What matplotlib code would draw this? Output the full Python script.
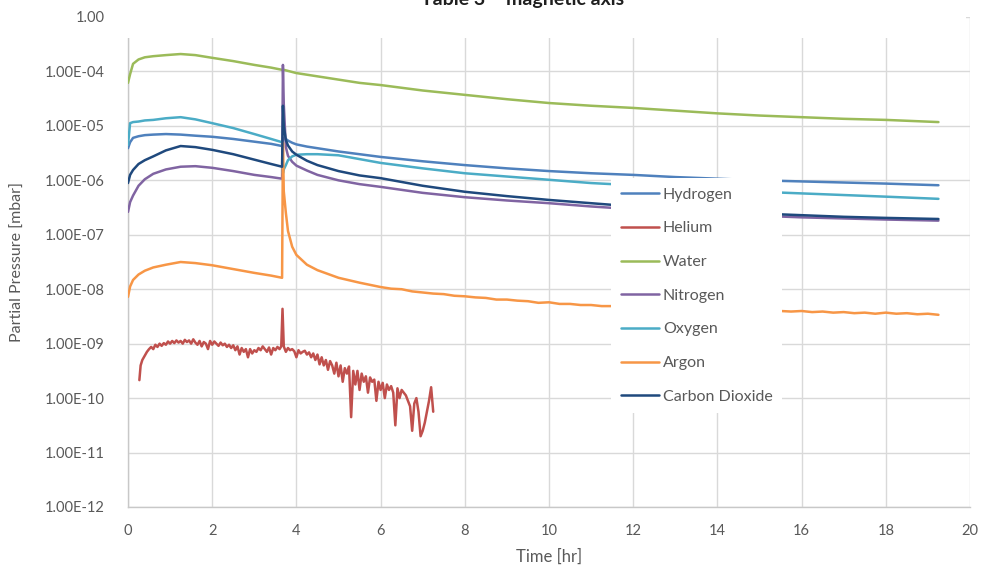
import numpy as np
import matplotlib
matplotlib.use("Agg")
import matplotlib.pyplot as plt
from matplotlib.patches import Rectangle
from matplotlib.ticker import FixedLocator, FixedFormatter, NullLocator

# ---- data: log10 of partial pressure [mbar] versus time [hr] ----
hours = [0, 0.05, 0.12, 0.25, 0.4, 0.6, 0.9, 1.25, 1.6, 2.0, 2.5, 3.0, 3.4,
         3.66, 3.68, 3.70, 3.75, 3.8, 3.9, 4.0, 4.25, 4.5, 5.0, 5.5, 6.0,
         7.0, 8.0, 9.0, 10.0, 11.0, 12.0, 13.0, 14.0, 15.0, 16.0, 17.0,
         18.0, 19.25]

hydrogen_log = [-5.41, -5.30, -5.22, -5.19, -5.17, -5.16, -5.15, -5.16, -5.18,
                -5.20, -5.24, -5.29, -5.33, -5.37, -5.25, -5.22, -5.24, -5.27,
                -5.31, -5.34, -5.38, -5.41, -5.47, -5.52, -5.57, -5.65, -5.72,
                -5.78, -5.83, -5.87, -5.90, -5.94, -5.97, -6.00, -6.02, -6.04,
                -6.06, -6.09]

water_log = [-4.21, -4.05, -3.86, -3.78, -3.74, -3.72, -3.70, -3.68, -3.70,
             -3.75, -3.81, -3.88, -3.93, -3.97, -3.97, -3.97, -3.98, -3.99,
             -4.01, -4.03, -4.06, -4.09, -4.15, -4.21, -4.25, -4.35, -4.43,
             -4.51, -4.58, -4.63, -4.67, -4.72, -4.77, -4.81, -4.84, -4.87,
             -4.89, -4.93]

nitrogen_log = [-6.58, -6.40, -6.28, -6.10, -5.98, -5.88, -5.80, -5.75, -5.74,
                -5.77, -5.83, -5.90, -5.94, -5.97, -3.88, -4.60, -5.39, -5.55,
                -5.66, -5.73, -5.82, -5.90, -6.00, -6.07, -6.12, -6.23, -6.31,
                -6.37, -6.42, -6.48, -6.53, -6.58, -6.62, -6.65, -6.68, -6.70,
                -6.72, -6.74]

oxygen_log = [-5.35, -4.95, -4.93, -4.92, -4.90, -4.89, -4.86, -4.84, -4.88,
              -4.95, -5.04, -5.15, -5.24, -5.30, -5.87, -5.80, -5.72, -5.63,
              -5.56, -5.53, -5.52, -5.52, -5.54, -5.61, -5.68, -5.78, -5.87,
              -5.93, -5.99, -6.05, -6.09, -6.13, -6.17, -6.21, -6.24, -6.27,
              -6.30, -6.34]

co2_log = [-6.05, -5.90, -5.81, -5.70, -5.63, -5.56, -5.45, -5.37, -5.39,
           -5.44, -5.52, -5.62, -5.70, -5.75, -4.63, -5.00, -5.26, -5.36,
           -5.47, -5.53, -5.64, -5.72, -5.83, -5.91, -5.96, -6.10, -6.21,
           -6.29, -6.36, -6.42, -6.48, -6.53, -6.57, -6.61, -6.64, -6.67,
           -6.69, -6.71]

argon_hours = [0, 0.05, 0.12, 0.25, 0.4, 0.6, 0.9, 1.25, 1.6, 2.0, 2.5, 3.0,
               3.4, 3.66, 3.68, 3.70, 3.75, 3.8, 3.9, 4.0, 4.25, 4.5, 5.0, 5.5,
               6.0, 6.25, 6.5, 6.75, 7.0, 7.25, 7.5, 7.75, 8.0, 8.25, 8.5,
               8.75, 9.0, 9.25, 9.5, 9.75, 10.0, 10.25, 10.5, 10.75, 11.0,
               11.25, 11.5, 11.75, 12.0, 12.25, 12.5, 12.75, 13.0, 13.25,
               13.5, 13.75, 14.0, 14.25, 14.5, 14.75, 15.0, 15.25, 15.5,
               15.75, 16.0, 16.25, 16.5, 16.75, 17.0, 17.25, 17.5, 17.75,
               18.0, 18.25, 18.5, 18.75, 19.0, 19.25]
argon_log = [-8.14, -7.95, -7.83, -7.73, -7.66, -7.60, -7.55, -7.50, -7.52,
             -7.56, -7.63, -7.70, -7.75, -7.79, -5.31, -6.20, -6.60, -6.93,
             -7.22, -7.37, -7.55, -7.65, -7.79, -7.88, -7.96, -7.99, -8.00,
             -8.04, -8.06, -8.08, -8.09, -8.12, -8.13, -8.15, -8.16, -8.19,
             -8.19, -8.21, -8.22, -8.25, -8.24, -8.27, -8.27, -8.29, -8.29,
             -8.31, -8.31, -8.33, -8.33, -8.35, -8.34, -8.36, -8.36, -8.37,
             -8.37, -8.39, -8.38, -8.40, -8.39, -8.40, -8.41, -8.39, -8.40,
             -8.41, -8.40, -8.42, -8.41, -8.43, -8.42, -8.44, -8.43, -8.45,
             -8.43, -8.45, -8.44, -8.46, -8.45, -8.47]

helium_hours = [0.27, 0.30, 0.34, 0.40, 0.45, 0.50, 0.55, 0.60, 0.65, 0.70,
                0.75, 0.80, 0.85, 0.90, 0.95, 1.00, 1.05, 1.10, 1.15, 1.20,
                1.25, 1.30, 1.35, 1.40, 1.45, 1.50, 1.55, 1.60, 1.65, 1.70,
                1.75, 1.80, 1.85, 1.90, 1.95, 2.00, 2.05, 2.10, 2.15, 2.20,
                2.25, 2.30, 2.35, 2.40, 2.45, 2.50, 2.55, 2.60, 2.65, 2.70,
                2.75, 2.80, 2.85, 2.90, 2.95, 3.00, 3.05, 3.10, 3.15, 3.20,
                3.25, 3.30, 3.35, 3.40, 3.45, 3.50, 3.55, 3.60, 3.64, 3.67,
                3.70, 3.75, 3.80, 3.85, 3.90, 3.95, 4.00, 4.05, 4.10, 4.15,
                4.20, 4.25, 4.30, 4.35, 4.40, 4.45, 4.50, 4.55, 4.60, 4.65,
                4.70, 4.75, 4.80, 4.85, 4.90, 4.95, 5.00, 5.05, 5.10, 5.15,
                5.20, 5.25, 5.30, 5.35, 5.40, 5.45, 5.50, 5.55, 5.60, 5.65,
                5.70, 5.75, 5.80, 5.85, 5.90, 5.95, 6.00, 6.05, 6.10, 6.15,
                6.20, 6.25, 6.30, 6.35, 6.40, 6.45, 6.50, 6.55, 6.60, 6.65,
                6.70, 6.75, 6.80, 6.85, 6.90, 6.95, 7.00, 7.05, 7.10, 7.15,
                7.20, 7.25]
helium_log = [-9.67, -9.40, -9.30, -9.22, -9.15, -9.10, -9.06, -9.10, -9.02,
              -9.06, -9.00, -9.04, -8.99, -9.02, -8.96, -9.00, -8.95, -8.99,
              -8.94, -8.98, -8.95, -9.00, -8.93, -8.97, -8.94, -9.00, -8.92,
              -8.98, -9.02, -8.95, -9.05, -8.97, -9.00, -9.10, -8.95, -9.02,
              -8.96, -9.00, -9.04, -8.98, -9.03, -9.00, -9.06, -9.02, -9.08,
              -9.03, -9.12, -9.05, -9.20, -9.08, -9.15, -9.10, -9.25, -9.10,
              -9.18, -9.12, -9.15, -9.08, -9.12, -9.05, -9.10, -9.15, -9.07,
              -9.20, -9.08, -9.12, -9.06, -9.10, -9.05, -8.36, -9.05, -9.15,
              -9.08, -9.12, -9.10, -9.14, -9.25, -9.12, -9.18, -9.15, -9.13,
              -9.20, -9.16, -9.25, -9.18, -9.30, -9.20, -9.38, -9.25, -9.40,
              -9.30, -9.48, -9.32, -9.40, -9.55, -9.35, -9.60, -9.40, -9.70,
              -9.45, -9.55, -9.42, -10.35, -9.50, -9.75, -9.50, -9.85, -9.55,
              -9.70, -9.60, -9.90, -9.62, -9.70, -9.66, -10.05, -9.70, -9.85,
              -9.72, -10.00, -9.75, -9.85, -9.78, -9.90, -10.50, -9.82, -10.00,
              -9.85, -9.90, -9.95, -10.05, -10.15, -10.60, -10.10, -10.00,
              -10.25, -10.70, -10.60, -10.45, -10.25, -10.05, -9.80, -10.25]

series_names = ["Hydrogen", "Helium", "Water", "Nitrogen", "Oxygen", "Argon",
                "Carbon Dioxide"]
series_colors = ["#4f81bd", "#c0504d", "#9bbb59", "#8064a2", "#4bacc6",
                 "#f79646", "#1f497d"]

y_tick_values = [1e-12, 1e-11, 1e-10, 1e-9, 1e-8, 1e-7, 1e-6, 1e-5, 1e-4, 1e-3]
y_tick_labels = ["1.00E-12", "1.00E-11", "1.00E-10", "1.00E-09", "1.00E-08",
                 "1.00E-07", "1.00E-06", "1.00E-05", "1.00E-04", "1.00"]
x_tick_values = [0, 2, 4, 6, 8, 10, 12, 14, 16, 18, 20]

# ---- figure ----
plt.rcParams["font.family"] = ["Lato", "DejaVu Sans"]
W, H = 981, 567
fig = plt.figure(figsize=(W / 100, H / 100), dpi=100)
ax = fig.add_axes([128 / W, 1 - 507 / H, 842 / W, 490 / H])

series = [
    (hours, hydrogen_log),
    (helium_hours, helium_log),
    (hours, water_log),
    (hours, nitrogen_log),
    (hours, oxygen_log),
    (argon_hours, argon_log),
    (hours, co2_log),
]
for (t, lg), name, col in zip(series, series_names, series_colors):
    ax.plot(t, 10.0 ** np.asarray(lg), color=col, lw=1.8, label=name,
            solid_capstyle="round", solid_joinstyle="round", zorder=3)

ax.set_yscale("log")
ax.set_ylim(1e-12, 1e-3)
ax.set_xlim(0, 20)
ax.yaxis.set_major_locator(FixedLocator(y_tick_values))
ax.yaxis.set_major_formatter(FixedFormatter(y_tick_labels))
ax.yaxis.set_minor_locator(NullLocator())
ax.set_xticks(x_tick_values)
ax.set_xticklabels([str(v) for v in x_tick_values])

grid_col = "#d9d9d9"
ax.grid(True, color=grid_col, lw=1.0, zorder=0)
ax.set_axisbelow(True)
for side in ("top", "right"):
    ax.spines[side].set_visible(False)
for side in ("left", "bottom"):
    ax.spines[side].set_color("#c8c8c8")
    ax.spines[side].set_linewidth(1.0)
ax.tick_params(axis="both", length=0, labelsize=10.5, labelcolor="#595959")
ax.tick_params(axis="y", pad=17)
ax.tick_params(axis="x", pad=12)

ax.set_xlabel("Time [hr]", fontsize=12, color="#595959", labelpad=8)
ax.set_ylabel("Partial Pressure [mbar]", fontsize=11.5, color="#595959",
              labelpad=14)

leg = ax.legend(loc="upper left",
                bbox_to_anchor=((611 - 128) / 842, (507 - 178) / 490),
                frameon=True, facecolor="white", edgecolor="none",
                framealpha=1.0, fancybox=False, borderpad=0.6,
                handlelength=2.4, handletextpad=0.25, labelspacing=1.22,
                borderaxespad=0, fontsize=11.5)
for txt in leg.get_texts():
    txt.set_color("#595959")
leg.set_zorder(10)

# white header band carrying the chart heading
fig.add_artist(Rectangle((120 / W, 1 - 38 / H), (966 - 120) / W, 38 / H,
                         transform=fig.transFigure, facecolor="white",
                         edgecolor="none", zorder=5))
fig.text(523 / W, 1 - 5 / H, "Table 3 – magnetic axis", ha="center",
         va="baseline", fontsize=14, fontweight="bold", color="#1f1f1f",
         zorder=6)

fig.savefig("out.png", dpi=100)
